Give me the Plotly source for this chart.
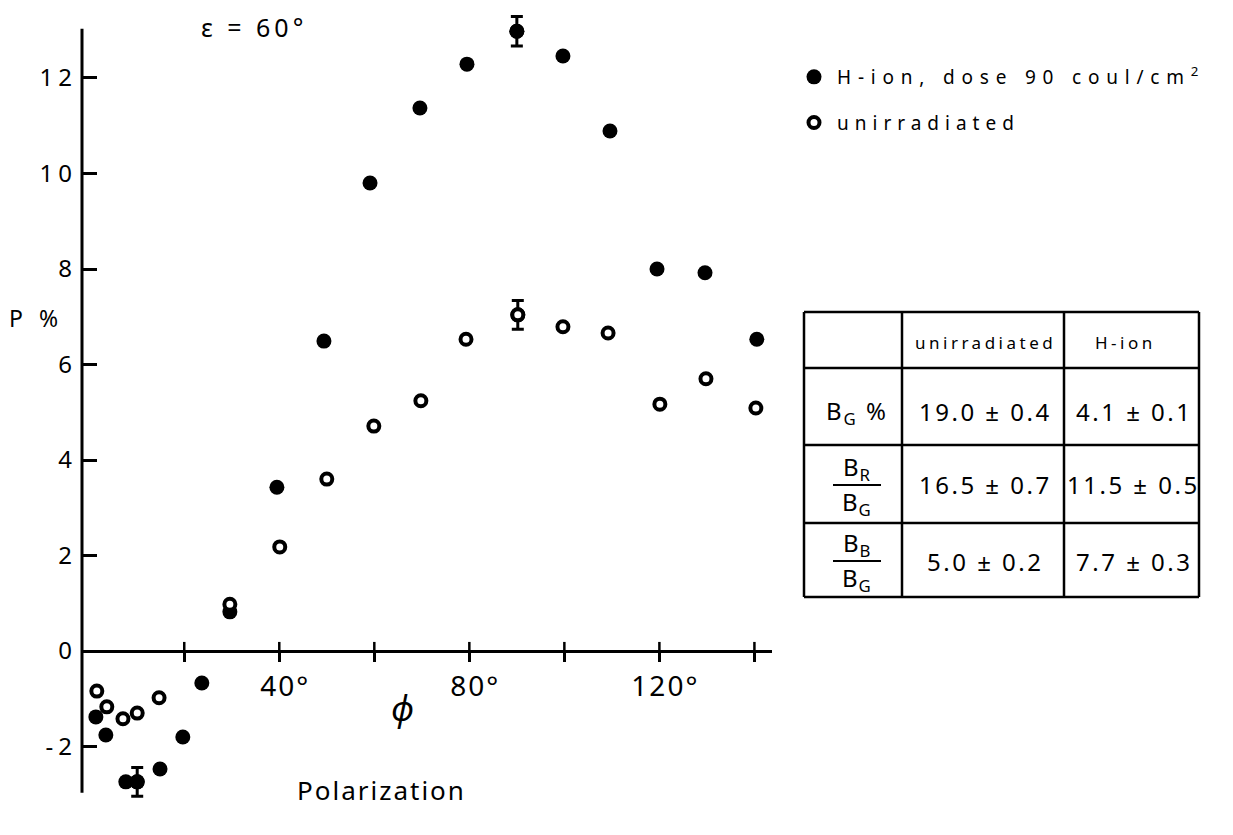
import plotly.graph_objects as go

# ---------------- data ----------------
h_phi = [1.4, 3.5, 7.7, 10.1, 14.9, 19.7, 23.7, 29.6, 39.5, 49.4, 59.1, 69.6,
         79.5, 90.0, 99.7, 109.6, 119.5, 129.6, 140.5]
h_p = [-1.38, -1.76, -2.74, -2.74, -2.47, -1.80, -0.67, 0.82, 3.43, 6.49, 9.80,
       11.37, 12.29, 12.98, 12.46, 10.89, 8.00, 7.92, 6.53]
h_err = [None, None, None, 0.30, None, None, None, None, None, None, None, None,
         None, 0.31, None, None, None, None, None]

u_phi = [1.6, 3.7, 7.1, 10.1, 14.7, 29.6, 40.1, 50.0, 59.9, 69.8, 79.3, 90.2,
         99.7, 109.2, 120.1, 129.8, 140.3]
u_p = [-0.84, -1.17, -1.42, -1.30, -0.98, 0.98, 2.18, 3.60, 4.71, 5.24, 6.53,
       7.04, 6.79, 6.66, 5.17, 5.70, 5.09]
u_err = [None, None, None, None, None, None, None, None, None, None, None, 0.30,
         None, None, None, None, None]

x_major = [40, 80, 120]
x_major_text = ["40°", "80°", "120°"]
x_minor = [20, 60, 100, 140]
y_ticks = [-2, 0, 2, 4, 6, 8, 10, 12]
y_tick_text = ["-2", "0", "2", "4", "6", "8", "10", "12"]
y_axis_span = [-2.97, 13.03]

table_cols = ["unirradiated", "H-ion"]
table_rows = [("B<sub>G</sub> %", None), ("B<sub>R</sub>", "B<sub>G</sub>"), ("B<sub>B</sub>", "B<sub>G</sub>")]
table_vals = [["19.0 ± 0.4", "4.1 ± 0.1"],
              ["16.5 ± 0.7", "11.5 ± 0.5"],
              ["5.0 ± 0.2", "7.7 ± 0.3"]]

name_h = "H-ion, dose 90 coul/cm<sup>2</sup>"
name_u = "unirradiated"

# ---------------- geometry ----------------
W, H = 1233, 835
ML, MR, MT, MB = 82, 461, 12, 30
PW, PH = W - ML - MR, H - MT - MB
X_RANGE = [-1.52, 143.7]
Y_RANGE = [-3.225, 13.382]
FONT = "Noto Sans"


def px(x):
    return (x - ML) / PW


def py(y):
    return (H - MB - y) / PH


def ls(s, n):
    return f'<span style="letter-spacing:{n}px">{s}</span>'


def deg_label(s):
    # invisible leading degree sign keeps the digits centred on the tick, as in the original
    return f'<span style="color:rgba(0,0,0,0)">°</span>' + ls(s, 2)


def err_subset(xs, ys, es):
    sel = [(x, y, e) for x, y, e in zip(xs, ys, es) if e is not None]
    return [s[0] for s in sel], [s[1] for s in sel], [s[2] for s in sel]


fig = go.Figure()

filled = dict(size=15, color="black", line=dict(width=0))
hollow = dict(size=11, color="white", line=dict(width=4, color="black"))
ebar = dict(type="data", thickness=3, width=6, color="black")

ex, ey, ee = err_subset(h_phi, h_p, h_err)
fig.add_trace(go.Scatter(x=ex, y=ey, mode="markers", marker=filled, showlegend=False,
                         error_y=dict(ebar, array=ee), cliponaxis=False, hoverinfo="skip"))
ex, ey, ee = err_subset(u_phi, u_p, u_err)
fig.add_trace(go.Scatter(x=ex, y=ey, mode="markers", marker=hollow, showlegend=False,
                         error_y=dict(ebar, array=ee), cliponaxis=False, hoverinfo="skip"))

fig.add_trace(go.Scatter(x=h_phi, y=h_p, mode="markers", marker=filled,
                         name=ls(name_h, 6.8), legendgroup="h", cliponaxis=False))
fig.add_trace(go.Scatter(x=u_phi, y=u_p, mode="markers", marker=hollow,
                         name=ls(name_u, 6), legendgroup="u", cliponaxis=False))

shapes = []
# y axis line (only over the drawn span)
shapes.append(dict(type="line", xref="paper", yref="y", x0=0, x1=0,
                   y0=y_axis_span[0], y1=y_axis_span[1], line=dict(color="black", width=3)))
# upper halves of the x tick marks (x axis crosses at P = 0)
for t in sorted(x_major + x_minor):
    shapes.append(dict(type="line", xref="x", yref="y", x0=t, x1=t, y0=0, y1=0.19,
                       line=dict(color="black", width=2.5)))

# table grid
col_px = [804, 902, 1064, 1199]
row_py = [312, 368, 445, 523, 597]
for c in col_px:
    shapes.append(dict(type="line", xref="paper", yref="paper", x0=px(c), x1=px(c),
                       y0=py(row_py[0]), y1=py(row_py[-1]), line=dict(color="black", width=2.5)))
for r in row_py:
    shapes.append(dict(type="line", xref="paper", yref="paper", x0=px(col_px[0]), x1=px(col_px[-1]),
                       y0=py(r), y1=py(r), line=dict(color="black", width=2.5)))

ann = []


def text(x, y, s, size, **kw):
    d = dict(x=px(x), y=py(y), xref="paper", yref="paper", text=s, showarrow=False,
             font=dict(family=FONT, size=size, color="black"), xanchor="center", yanchor="middle")
    d.update(kw)
    ann.append(d)


# header
head_dx = [2, -6]
for j, c in enumerate(table_cols):
    cx = (col_px[j + 1] + col_px[j + 2]) / 2
    text(cx + head_dx[j], (row_py[0] + row_py[1]) / 2 + 2, ls(c, 3.5), 17)
# rows
for i, (num, den) in enumerate(table_rows):
    cy = (row_py[i + 1] + row_py[i + 2]) / 2 + (5 if i == 0 else 1)
    lx = (col_px[0] + col_px[1]) / 2 + 4
    if den is None:
        text(lx, cy, ls(num, 2), 24)
    else:
        text(lx, cy - 17, ls(num, 1), 24)
        text(lx, cy + 18, ls(den, 1), 24)
        shapes.append(dict(type="line", xref="paper", yref="paper", x0=px(lx - 24), x1=px(lx + 24),
                           y0=py(cy), y1=py(cy), line=dict(color="black", width=2)))
    for j, v in enumerate(table_vals[i]):
        cx = (col_px[j + 1] + col_px[j + 2]) / 2 + 2
        text(cx, cy, ls(v, 2.5), 24)

text(254, 27, ls("ε = 60°", 4), 25)
text(36, 318, ls("P %", 5), 23)
text(402, 708, "<i>ϕ</i>", 34)
text(381, 790, ls("Polarization", 2), 26)

x0_pos = (0 - Y_RANGE[0]) / (Y_RANGE[1] - Y_RANGE[0])

fig.update_layout(
    width=W, height=H, autosize=False,
    margin=dict(l=ML, r=MR, t=MT, b=MB, pad=0),
    paper_bgcolor="white", plot_bgcolor="white",
    font=dict(family=FONT, color="black"),
    xaxis=dict(range=X_RANGE, showgrid=False, zeroline=False, showline=True,
               linecolor="black", linewidth=3, anchor="free", position=x0_pos,
               tickmode="array", tickvals=x_major,
               ticktext=[deg_label(t) for t in x_major_text],
               ticks="outside", ticklen=9, tickwidth=2.5, tickcolor="black",
               minor=dict(tickmode="array", tickvals=x_minor, ticks="outside", ticklen=9,
                          tickwidth=2.5, tickcolor="black", showgrid=False),
               tickfont=dict(family=FONT, size=28, color="black")),
    yaxis=dict(range=Y_RANGE, showgrid=False, zeroline=False, showline=False,
               tickmode="array", tickvals=y_ticks, ticktext=[ls(t, 5) for t in y_tick_text],
               ticks="inside", ticklen=15, tickwidth=2.5, tickcolor="black",
               ticklabelstandoff=4,
               tickfont=dict(family=FONT, size=24, color="black")),
    legend=dict(x=px(791), y=py(58), xanchor="left", yanchor="top",
                bgcolor="rgba(0,0,0,0)", itemwidth=36, tracegroupgap=18,
                font=dict(family=FONT, size=19, color="black")),
    shapes=shapes, annotations=ann,
)

fig.write_html("out.html")
